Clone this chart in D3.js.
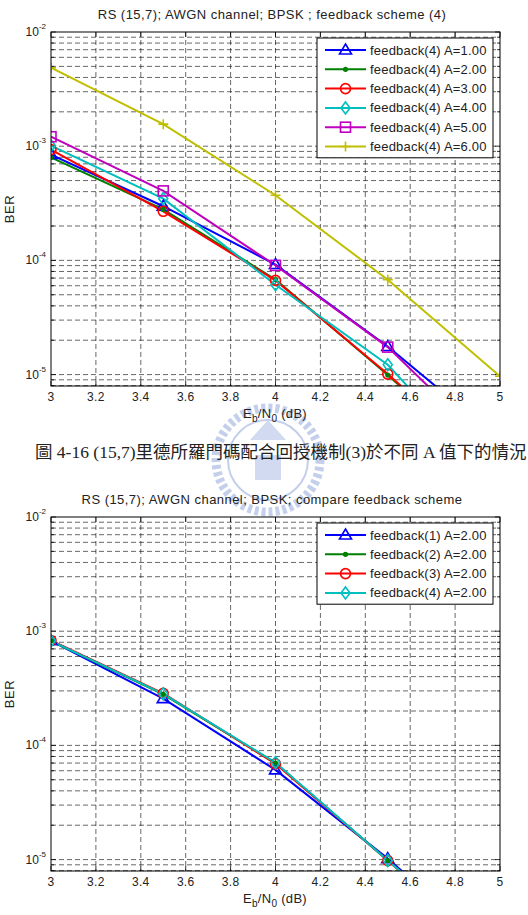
<!DOCTYPE html>
<html>
<head>
<meta charset="utf-8">
<script src="https://cdn.jsdelivr.net/npm/d3@7"></script>
<style>
  body { margin: 0; background: #fff; }
  svg { display: block; font-family: "Liberation Sans", Arial, sans-serif; }
</style>
</head>
<body>
<svg id="chart" width="528" height="915"></svg>
<script>
// Eb/N0 points (dB)
var ebno = [3, 3.5, 4, 4.5, 5];
var xTicks = [3, 3.2, 3.4, 3.6, 3.8, 4, 4.2, 4.4, 4.6, 4.8, 5];
var yDecades = [-2, -3, -4, -5];

// top chart: feedback scheme (4), different A
var berA1 = [8.45e-4, 2.98e-4, 9.2e-5, 1.76e-5, 2.7e-6];
var berA2 = [7.96e-4, 2.80e-4, 6.8e-5, 9.9e-6, 1.3e-6];
var berA3 = [9.35e-4, 2.69e-4, 6.68e-5, 1.01e-5, 1.35e-6];
var berA4 = [1.01e-3, 3.47e-4, 6.12e-5, 1.22e-5, 1.04e-6];
var berA5 = [1.21e-3, 4.06e-4, 9.04e-5, 1.74e-5, 1.94e-6];
var berA6 = [4.87e-3, 1.56e-3, 3.72e-4, 6.78e-5, 9.66e-6];
var topNames = ["feedback(4) A=1.00", "feedback(4) A=2.00", "feedback(4) A=3.00",
                "feedback(4) A=4.00", "feedback(4) A=5.00", "feedback(4) A=6.00"];

// bottom chart: compare feedback schemes, A=2
var berFb1 = [8.24e-4, 2.57e-4, 6.1e-5, 1.02e-5, 1.40e-6];
var berFb2 = [8.24e-4, 2.80e-4, 7.0e-5, 9.8e-6, 1.43e-6];
var berFb3 = [8.30e-4, 2.86e-4, 6.9e-5, 9.8e-6, 1.40e-6];
var berFb4 = [8.24e-4, 2.83e-4, 7.07e-5, 9.8e-6, 1.45e-6];
var bottomNames = ["feedback(1) A=2.00", "feedback(2) A=2.00",
                   "feedback(3) A=2.00", "feedback(4) A=2.00"];

var styles = [
  {color: "#0000ff", marker: "triangle"},
  {color: "#008000", marker: "dot"},
  {color: "#ff0000", marker: "circle"},
  {color: "#00bfbf", marker: "diamond"},
  {color: "#bf00bf", marker: "square"},
  {color: "#bfbf00", marker: "plus"}
];

var svg = d3.select("#chart");

function drawMarker(g, type, color, x, y) {
  if (type == "triangle") {
    g.append("path").attr("d", "M" + x + "," + (y - 6) + "L" + (x + 6) + "," + (y + 4) + "L" + (x - 6) + "," + (y + 4) + "Z")
      .attr("fill", "none").attr("stroke", color).attr("stroke-width", 1.6);
  } else if (type == "dot") {
    g.append("circle").attr("cx", x).attr("cy", y).attr("r", 2.6).attr("fill", color);
  } else if (type == "circle") {
    g.append("circle").attr("cx", x).attr("cy", y).attr("r", 5)
      .attr("fill", "none").attr("stroke", color).attr("stroke-width", 1.6);
  } else if (type == "diamond") {
    g.append("path").attr("d", "M" + x + "," + (y - 6) + "L" + (x + 4.5) + "," + y + "L" + x + "," + (y + 6) + "L" + (x - 4.5) + "," + y + "Z")
      .attr("fill", "none").attr("stroke", color).attr("stroke-width", 1.6);
  } else if (type == "square") {
    g.append("rect").attr("x", x - 5).attr("y", y - 5).attr("width", 10).attr("height", 10)
      .attr("fill", "none").attr("stroke", color).attr("stroke-width", 1.6);
  } else if (type == "plus") {
    g.append("path").attr("d", "M" + (x - 5) + "," + y + "H" + (x + 5) + "M" + x + "," + (y - 5) + "V" + (y + 5))
      .attr("stroke", color).attr("stroke-width", 1.6);
  }
}

function drawChart(top, title, series, names, id) {
  var left = 51, right = 500, bottom = top + 354;
  var x = d3.scaleLinear().domain([3, 5]).range([left, right]);
  var y = d3.scaleLog().domain([Math.pow(10, -5.1), 1e-2]).range([bottom, top]);

  var g = svg.append("g");

  g.append("clipPath").attr("id", "clip" + id)
    .append("rect").attr("x", left).attr("y", top).attr("width", right - left).attr("height", bottom - top);

  // minor + major y values
  var yGrid = [];
  yDecades.forEach(function(d) {
    for (var m = 1; m <= 9; m++) {
      var v = m * Math.pow(10, d - 1);
      if (v >= y.domain()[0] && v <= 1e-2 + 1e-12) yGrid.push({v: v, major: m == 1});
    }
  });
  yGrid.push({v: 1e-2, major: true});

  // grid
  var grid = g.append("g").attr("stroke", "#000").attr("stroke-width", 0.6).attr("stroke-dasharray", "5,3");
  grid.selectAll(".gx").data(xTicks.slice(1, -1)).join("line")
    .attr("x1", d => x(d)).attr("x2", d => x(d)).attr("y1", top).attr("y2", bottom);
  grid.selectAll(".gy").data(yGrid.filter(d => d.v < 1e-2)).join("line")
    .attr("x1", left).attr("x2", right).attr("y1", d => y(d.v)).attr("y2", d => y(d.v));

  // ticks inside the box
  var ticks = g.append("g").attr("stroke", "#000").attr("stroke-width", 0.8);
  xTicks.forEach(function(t) {
    ticks.append("line").attr("x1", x(t)).attr("x2", x(t)).attr("y1", bottom).attr("y2", bottom - 5);
    ticks.append("line").attr("x1", x(t)).attr("x2", x(t)).attr("y1", top).attr("y2", top + 5);
  });
  yGrid.forEach(function(d) {
    var len = d.major ? 5 : 3;
    ticks.append("line").attr("x1", left).attr("x2", left + len).attr("y1", y(d.v)).attr("y2", y(d.v));
    ticks.append("line").attr("x1", right).attr("x2", right - len).attr("y1", y(d.v)).attr("y2", y(d.v));
  });

  // x tick labels
  g.append("g").selectAll("text").data(xTicks).join("text")
    .attr("x", d => x(d)).attr("y", bottom + 15)
    .attr("text-anchor", "middle").attr("font-size", 12).attr("letter-spacing", 0.3).attr("fill", "#222")
    .text(d => d3.format("~g")(d));

  // y tick labels 10^n
  yDecades.forEach(function(d) {
    var t = g.append("text").attr("x", 46).attr("y", y(Math.pow(10, d)) + 4)
      .attr("text-anchor", "end").attr("font-size", 12).attr("fill", "#222");
    t.append("tspan").text("10");
    t.append("tspan").attr("dy", -7).attr("font-size", 8).text(d);
  });

  // lines + markers
  var line = d3.line().x(d => x(d[0])).y(d => y(d[1]));
  var plot = g.append("g").attr("clip-path", "url(#clip" + id + ")");
  series.forEach(function(s, i) {
    var pts = ebno.map((e, j) => [e, s[j]]);
    plot.append("path").datum(pts).attr("d", line)
      .attr("fill", "none").attr("stroke", styles[i].color).attr("stroke-width", 2);
  });
  series.forEach(function(s, i) {
    ebno.forEach(function(e, j) {
      drawMarker(plot, styles[i].marker, styles[i].color, x(e), y(s[j]));
    });
  });

  // box
  g.append("rect").attr("x", left).attr("y", top).attr("width", right - left).attr("height", bottom - top)
    .attr("fill", "none").attr("stroke", "#000").attr("stroke-width", 1);

  // title
  g.append("text").attr("x", 272).attr("y", top - 13).attr("text-anchor", "middle")
    .attr("font-size", 13).attr("letter-spacing", 0.45).attr("fill", "#222").text(title);

  // x label
  var xl = g.append("text").attr("x", 275).attr("y", bottom + 32).attr("text-anchor", "middle")
    .attr("font-size", 13).attr("letter-spacing", 0.3).attr("fill", "#222");
  xl.append("tspan").text("E");
  xl.append("tspan").attr("dy", 4).attr("font-size", 10).text("b");
  xl.append("tspan").attr("dy", -4).text("/N");
  xl.append("tspan").attr("dy", 4).attr("font-size", 10).text("0");
  xl.append("tspan").attr("dy", -4).text(" (dB)");

  // y label
  g.append("text").attr("transform", "translate(14," + (top + 177) + ") rotate(-90)")
    .attr("text-anchor", "middle").attr("font-size", 13).attr("fill", "#222")
    .attr("letter-spacing", 0.6).text("BER");

  // legend
  var lx = 317, ly = top + 6, rowH = 19.3;
  var leg = g.append("g");
  leg.append("rect").attr("x", lx).attr("y", ly).attr("width", 176).attr("height", names.length * rowH + 4)
    .attr("fill", "#fff").attr("stroke", "#000").attr("stroke-width", 1);
  names.forEach(function(n, i) {
    var cy = ly + 12 + i * rowH;
    leg.append("line").attr("x1", lx + 8).attr("x2", lx + 49).attr("y1", cy).attr("y2", cy)
      .attr("stroke", styles[i].color).attr("stroke-width", 2);
    drawMarker(leg, styles[i].marker, styles[i].color, lx + 28.5, cy);
    leg.append("text").attr("x", lx + 53).attr("y", cy + 4.5).attr("font-size", 13)
      .attr("letter-spacing", 0.2).attr("fill", "#222").text(n);
  });
}

// watermark behind caption
var wm = svg.append("g").attr("opacity", 0.35);
wm.append("circle").attr("cx", 268).attr("cy", 460).attr("r", 52)
  .attr("fill", "none").attr("stroke", "#5a78c8").attr("stroke-width", 9).attr("stroke-dasharray", "4,3");
wm.append("circle").attr("cx", 268).attr("cy", 460).attr("r", 40)
  .attr("fill", "none").attr("stroke", "#5a78c8").attr("stroke-width", 2);
wm.append("path").attr("d", "M250,440 L268,420 L286,440 Z M255,455 H281 V480 H255 Z")
  .attr("fill", "#7e96d6");

drawChart(32, "RS (15,7); AWGN channel; BPSK ; feedback scheme (4)",
  [berA1, berA2, berA3, berA4, berA5, berA6], topNames, 1);

// caption
svg.append("text").attr("x", 35).attr("y", 458)
  .attr("font-family", "'Liberation Serif', 'Noto Sans CJK TC', serif")
  .attr("font-size", 17.5).attr("fill", "#222")
  .text("圖 4-16 (15,7)里德所羅門碼配合回授機制(3)於不同 A 值下的情況");

drawChart(517, "RS (15,7); AWGN channel; BPSK; compare feedback scheme",
  [berFb1, berFb2, berFb3, berFb4], bottomNames, 2);
</script>
</body>
</html>
